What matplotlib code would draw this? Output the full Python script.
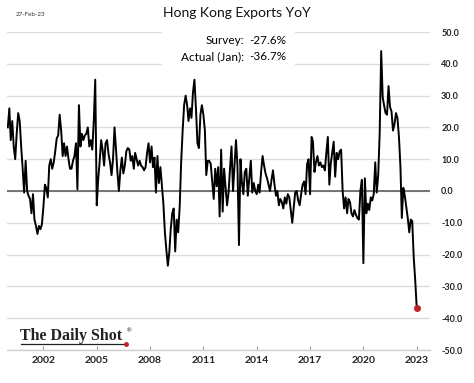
import numpy as np
import pandas as pd
import matplotlib
matplotlib.use('Agg')
import matplotlib.pyplot as plt
from matplotlib.patches import Rectangle
from matplotlib.lines import Line2D

# Hong Kong exports, % YoY, monthly Jan-2000 .. Jan-2023
exports_yoy = [
    20, 26, 16, 22, 14, 10, 18, 24.5, 22, 14, 7, -0.5,
    9.5, 0, -1.5, -2.5, -7, -1, -9, -11, -13.5, -11, -12, -10.5,
    -5, 2, 1, -2, 8, 10, 7, 9, 12.5, 16.5, 17.5, 24,
    19, 11, 15, 11, 14, 10, 7, 7, 9.5, 11, 15, 0.5,
    27, 14, 18, 16, 17.5, 18, 20, 14, 16, 13, 22, 35,
    -4.5, 4, 9, 16, 13, 8, 15, 16, 11.5, 9, 5, 10,
    20, 13, 6, 0, 6.5, 10.5, 5.5, 8, 12.5, 13.5, 13, 9.5,
    11, 7, 12, 10, 8, 9.5, 8, 7.5, 6.5, 7.5, 12, 15,
    9, 14, 7.5, 10.5, -0.5, 11, 2.5, 7.5, 1.5, -4, -13, -18.5,
    -23.5, -19, -12, -7, -5.5, -19, -9, -13, -5, 9, 19, 27,
    30, 27, 22, 26, 23, 31, 35, 26, 15, 13.5, 24, 27,
    24, 19, 5, 9.5, 9.5, 8.5, 3, -2.5, 7, 1.5, 7.5, -8,
    13, -6.5, 7, 1, -4.5, -0.5, 7, 14, 0, 8, 16, 8,
    -17, 10, 3, -1, 6, 7, -1.5, 4, 9.5, -0.5, 2.5, 0,
    -1, 2, -0.5, 6, 11, 8, 5.5, 4, 2, 0, 3.5, 6.5,
    2, -1.5, 0, -4.5, -2.5, -3.5, -5.5, -2, -4, -1, -2, -6,
    -10, -5, -0.5, 0, -3, -4.5, -1, 2, 3, -1, 8.5, 10,
    -1, 17, 15.5, 6, 9, 11, 8, 9, 7.5, 8, 6.5, 12,
    17, 2, 8.5, 12, 15.5, 4.5, 12, 10, 12.5, 13, 0, -5.5,
    -2, -7, -2.5, -3.5, -7, -8, -6, -7.5, -8.5, -9, 0, 3.5,
    -22.7, 4, -7, -4, -6, -2, -3, -1, 9, -0.5, 5, 18,
    44, 29.5, 27, 24.5, 24, 33, 26.5, 25, 19, 21, 24.5, 23,
    17, 7.5, -8.5, 1, -1.5, -5, -8.5, -13, -9, -9.5, -21, -28,
    -36.7,
]
dates = pd.date_range('2000-01-01', periods=len(exports_yoy), freq='MS')

tick_years = [2002, 2005, 2008, 2011, 2014, 2017, 2020, 2023]
y_ticks = [50, 40, 30, 20, 10, 0, -10, -20, -30, -40, -50]

plt.rcParams['font.family'] = ['Lato', 'DejaVu Sans']

W, H = 474, 383
fig = plt.figure(figsize=(W / 100, H / 100), dpi=100)
ax = fig.add_axes([7 / W, 1 - 350 / H, 423 / W, 318 / H])

ax.set_ylim(-50, 50)
ax.set_xlim(pd.Timestamp('1999-12-15'), pd.Timestamp('2023-10-01'))
ax.set_yticks(y_ticks)
ax.set_yticklabels(['%.1f' % v for v in y_ticks])
ax.yaxis.tick_right()
ax.set_xticks([pd.Timestamp('%d-01-01' % y) for y in tick_years])
ax.set_xticklabels([str(y) for y in tick_years])

for s in ['top', 'left', 'right']:
    ax.spines[s].set_visible(False)
ax.spines['bottom'].set_color('#d0d0d0')
ax.spines['bottom'].set_linewidth(1)

ax.tick_params(axis='y', length=0, pad=8, labelsize=6.5, labelcolor='#222222')
ax.tick_params(axis='x', direction='in', length=3, width=0.8, color='#999999',
               pad=4, labelsize=7.5, labelcolor='#222222')
for lab in ax.get_xticklabels() + ax.get_yticklabels():
    lab.set_fontweight('bold')

ax.set_axisbelow(True)
ax.grid(axis='y', color='#dcdcdc', linewidth=1)
ax.axhline(0, color='#606060', linewidth=1.2, zorder=1.5)

# white box behind the survey / actual text
ax.add_patch(Rectangle((162 / W, 1 - 70 / H), 133 / W, 46 / H,
                       transform=fig.transFigure, facecolor='white',
                       edgecolor='none', zorder=1))

ax.plot(dates, exports_yoy, color='black', linewidth=1.4, zorder=3)
ax.plot(dates[-1:], exports_yoy[-1:], 'o', color='#c0202a', markersize=4, zorder=4)

fig.text(0.5, 1 - 13 / H, 'Hong Kong Exports YoY', ha='center', va='center',
         fontsize=10, color='#111111')
fig.text(16 / W, 1 - 15 / H, '27-Feb-23', ha='left', va='center', fontsize=4.5,
         color='#333333')

fig.text(244 / W, 1 - 40 / H, 'Survey:', ha='right', va='center', fontsize=8.5)
fig.text(249 / W, 1 - 40 / H, '-27.6%', ha='left', va='center', fontsize=8.5)
fig.text(244 / W, 1 - 56.5 / H, 'Actual (Jan):', ha='right', va='center', fontsize=8.5)
fig.text(249 / W, 1 - 56.5 / H, '-36.7%', ha='left', va='center', fontsize=8.5)

# logo
fig.text(20 / W, 1 - 336 / H, 'The Daily Shot', ha='left', va='center',
         fontsize=11.5, family='Liberation Serif', fontweight='bold', color='#222222')
fig.text(125 / W, 1 - 331 / H, '\u00ae', ha='left', va='center', fontsize=4.5,
         family='DejaVu Sans', color='#222222')
fig.add_artist(Line2D([21 / W, 126 / W], [1 - 344 / H, 1 - 344 / H],
                      transform=fig.transFigure, color='#222222', linewidth=0.9))
fig.add_artist(Line2D([126 / W], [1 - 344 / H], transform=fig.transFigure,
                      marker='o', markersize=2.5, color='#c0202a'))

fig.savefig('out.png', dpi=100)
